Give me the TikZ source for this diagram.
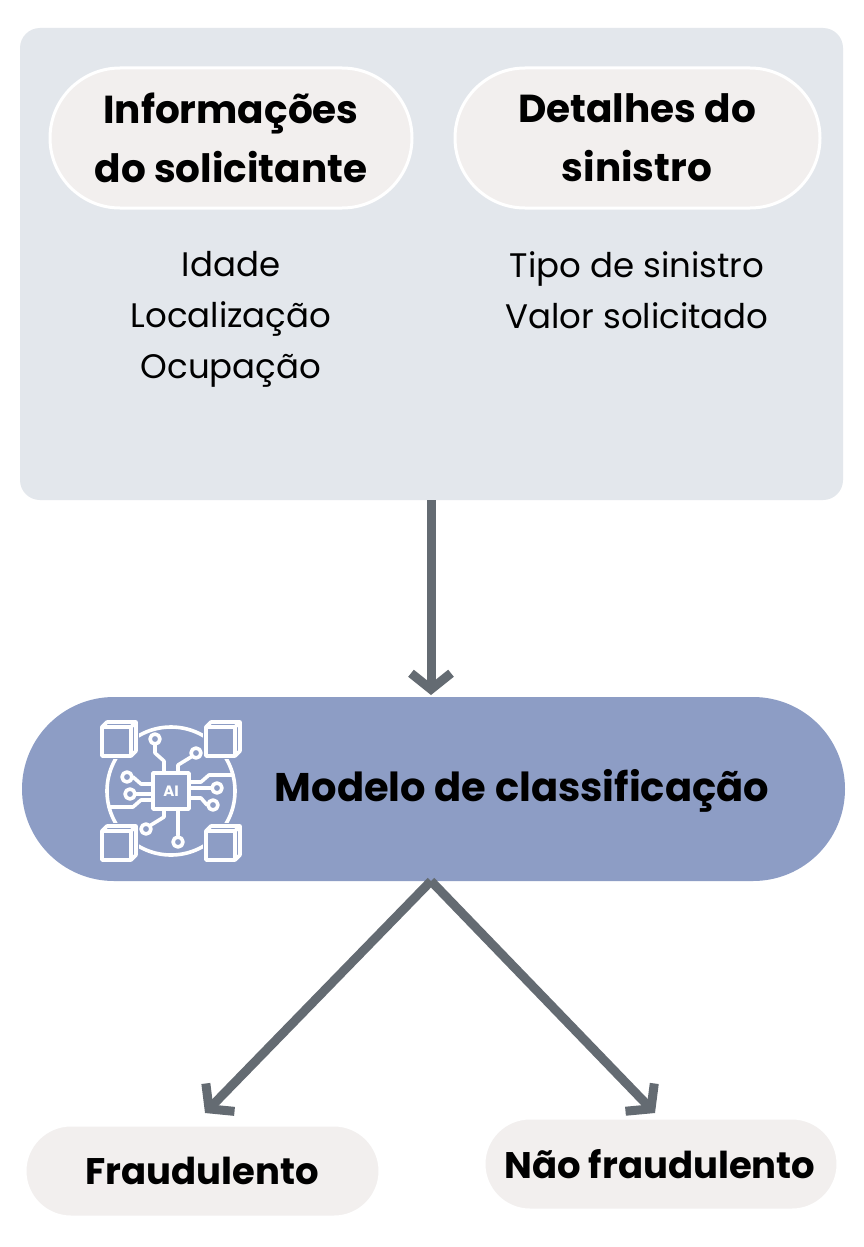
\documentclass[tikz,border=0pt]{standalone}
\usepackage{fontspec}
\setmainfont{Poppins}
\usetikzlibrary{arrows.meta}
\definecolor{bgbox}{HTML}{E3E7EC}
\definecolor{pillc}{HTML}{F2EFEE}
\definecolor{modelc}{HTML}{8D9DC5}
\definecolor{arrc}{HTML}{646B72}
\begin{document}
\begin{tikzpicture}[x=1pt,y=-1pt,
  pill/.style={rounded corners=#1, fill=pillc, draw=white, line width=3pt},
  head/.style={font=\fontsize{39}{59}\selectfont\bfseries, align=center},
  item/.style={font=\fontsize{34}{51}\selectfont, align=center},
  arr/.style={draw=arrc, line width=9pt, -{Straight Barb[length=16pt,width=40pt,line width=9pt]}},
  ic/.style={draw=white, line width=3.6pt, line cap=round, line join=round}]
\useasboundingbox (0,0) rectangle (864,1247);
\fill[white] (0,0) rectangle (864,1247);
\fill[bgbox, rounded corners=20pt] (20,28) rectangle (843,500);
\draw[pill=70pt] (50,68) rectangle (412,208);
\node[head] (h1) at (231,138) {Informações\\do solicitante};
\draw[pill=70pt] (455,68) rectangle (820,208);
\node[head] (h2) at (637,138) {Detalhes do\\sinistro};
\node[item, anchor=north] (l1) at (231,248) {Idade\\Localização\\Ocupação};
\node[item, anchor=north] (l2) at (637,248) {Tipo de sinistro\\Valor solicitado};
\coordinate (top) at (431,500);
\fill[modelc, rounded corners=92pt] (22,697) rectangle (845,881);
\node[font=\fontsize{40}{48}\selectfont\bfseries] (m) at (522,791) {Modelo de classificação};
\coordinate (mt) at (431,695);
\coordinate (mb) at (431,881);
% icon
\begin{scope}[shift={(171,791)}]
  \draw[ic] (0,0) circle (64);
  \foreach \sx/\sy in {-1/-1,1/-1,-1/1,1/1}{
    \fill[modelc] (\sx*52-20,\sy*52-20) rectangle (\sx*52+20,\sy*52+20);
    \draw[ic] (\sx*52-17,\sy*52-12) rectangle (\sx*52+12,\sy*52+17);
    \draw[ic] (\sx*52-17,\sy*52-12) -- (\sx*52-12,\sy*52-17) -- (\sx*52+17,\sy*52-17) -- (\sx*52+17,\sy*52+12) -- (\sx*52+12,\sy*52+17);
    \draw[ic] (\sx*52+12,\sy*52-12) -- (\sx*52+17,\sy*52-17);
  }
  \draw[ic, fill=modelc] (-18,-18) rectangle (18,18);
  \node[text=white, font=\fontsize{15}{15}\selectfont\bfseries] (ai) at (0,0) {AI};
  \draw[ic] (-7,-18) -- (-7,-30) -- (-16,-38) -- (-16,-46); \draw[ic] (-16,-52) circle (5);
  \draw[ic] (7,-18) -- (7,-26) -- (20,-34); \draw[ic] (25,-38) circle (5);
  \draw[ic] (-7,18) -- (-7,26) -- (-20,34); \draw[ic] (-25,38) circle (5);
  \draw[ic] (7,18) -- (7,44); \draw[ic] (7,51) circle (5);
  \draw[ic] (-18,-7) -- (-30,-7) -- (-38,-14); \draw[ic] (-44,-14) circle (5);
  \draw[ic] (-18,3) -- (-35,3); \draw[ic] (-41,3) circle (5);
  \draw[ic] (-18,9) -- (-30,9) -- (-38,16) -- (-62,16);
  \draw[ic] (18,-9) -- (30,-9) -- (38,-16) -- (62,-16);
  \draw[ic] (18,-3) -- (40,-3); \draw[ic] (46,-3) circle (5);
  \draw[ic] (18,7) -- (30,7) -- (36,14); \draw[ic] (42,14) circle (5);
\end{scope}
\draw[pill=46pt] (25,1125) rectangle (380,1217);
\node[font=\fontsize{37}{44}\selectfont\bfseries] (f) at (202,1171) {Fraudulento};
\draw[pill=46pt] (484,1118) rectangle (838,1210);
\node[font=\fontsize{37}{44}\selectfont\bfseries] (nf) at (660,1164) {Não fraudulento};
\coordinate (fa) at (205,1113);
\coordinate (na) at (655,1113);
\draw[arr] (top) -- (mt);
\draw[arr] (mb) -- (fa);
\draw[arr] (mb) -- (na);
\end{tikzpicture}
\end{document}
